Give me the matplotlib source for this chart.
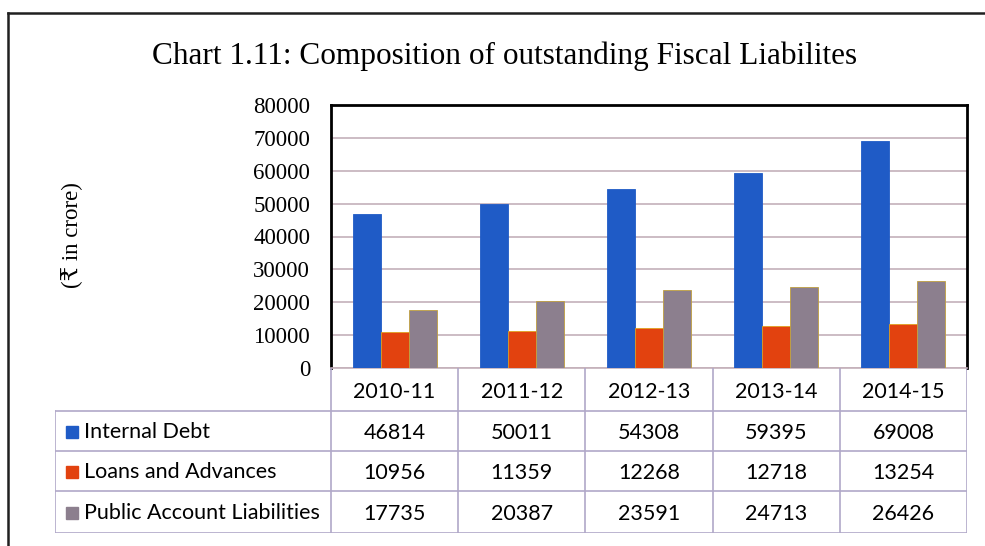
import matplotlib.pyplot as plt
from matplotlib.lines import Line2D

# data
years = ['2010-11', '2011-12', '2012-13', '2013-14', '2014-15']
series_names = ['Internal Debt', 'Loans and Advances', 'Public Account Liabilities']
internal_debt = [46814, 50011, 54308, 59395, 69008]
loans_advances = [10956, 11359, 12268, 12718, 13254]
public_account = [17735, 20387, 23591, 24713, 26426]
y_ticks = [0, 10000, 20000, 30000, 40000, 50000, 60000, 70000, 80000]

series = [internal_debt, loans_advances, public_account]
colors = ['#1F5BC6', '#E2420F', '#8C7F8E']
edges = ['#1F5BC6', '#E0A020', '#C0A040']

W, H = 985, 546
fig = plt.figure(figsize=(W / 100, H / 100), dpi=100)

serif = ['Liberation Serif', 'DejaVu Serif', 'DejaVu Sans']
sans = ['Lato', 'DejaVu Sans']

# pixel layout
ax_l, ax_r, ax_t, ax_b = 331, 967, 105, 368
ax = fig.add_axes([ax_l / W, 1 - ax_b / H, (ax_r - ax_l) / W, (ax_b - ax_t) / H])

n = len(years)
x = list(range(n))
bw = 0.22
for i, (vals, c, e) in enumerate(zip(series, colors, edges)):
    ax.bar([xi + (i - 1) * bw for xi in x], vals, width=bw, color=c,
           edgecolor=e, linewidth=0.6, zorder=3, label=series_names[i])

ax.set_xlim(-0.5, n - 0.5)
ax.set_ylim(0, 80000)
ax.set_yticks(y_ticks)
ax.set_yticklabels([str(v) for v in y_ticks], fontsize=16.5, family=serif)
ax.set_xticks([])
ax.tick_params(axis='y', length=0, pad=15)
ax.grid(axis='y', color='#c4b0ba', linewidth=1.2, zorder=0)
for s in ['top', 'right', 'left']:
    ax.spines[s].set_color('black')
    ax.spines[s].set_linewidth(2)
ax.spines['bottom'].set_color('#c4b0ba')
ax.spines['bottom'].set_linewidth(1.2)

fig.text(505 / W, 1 - 56 / H, 'Chart 1.11: Composition of outstanding Fiscal Liabilites',
         ha='center', va='center', fontsize=22.5, family=serif)
fig.text(72 / W, 1 - 235 / H, '(₹ in crore)', rotation=90, ha='center', va='center',
         fontsize=16.5, family=serif)

# data table under the chart, columns aligned with the bar groups
unit = (ax_r - ax_l) / n
tab_l = 55
tx_left = -0.5 - (ax_l - tab_l) / unit
tab = fig.add_axes([tab_l / W, 1 - 533 / H, (ax_r - tab_l) / W, (533 - ax_b) / H])
tab.set_xlim(tx_left, n - 0.5)
tab.set_ylim(533, ax_b)
tab.axis('off')

row_edges = [ax_b, 411, 451, 491, 533]
grid_c = '#b0a8c8'
for k in range(n + 1):
    tab.plot([k - 0.5, k - 0.5], [ax_b, 533], color=grid_c, lw=1.2)
tab.plot([tx_left, tx_left], [411, 533], color=grid_c, lw=1.2)
for yy in row_edges[1:]:
    tab.plot([tx_left, n - 0.5], [yy, yy], color=grid_c, lw=1.2)

fs = 15.5
for k, yr in enumerate(years):
    tab.text(k, (row_edges[0] + row_edges[1]) / 2 + 3, yr, ha='center', va='center',
             fontsize=fs, family=sans)
for r, (name, vals, c) in enumerate(zip(series_names, series, colors)):
    yc = (row_edges[r + 1] + row_edges[r + 2]) / 2
    tab.text(tx_left + 29 / unit, yc + 1, name, ha='left', va='center', fontsize=fs, family=sans)
    tab.plot([tx_left + 17 / unit], [yc + 1], marker='s', markersize=8, color=c, linestyle='none')
    for k, v in enumerate(vals):
        tab.text(k, yc + 2, str(v), ha='center', va='center', fontsize=fs, family=sans)

# outer frame of the scanned box
fig.add_artist(Line2D([8 / W, 1], [1 - 13 / H, 1 - 13 / H], color='#202020', lw=1.8,
                      transform=fig.transFigure))
fig.add_artist(Line2D([8 / W, 8 / W], [0, 1 - 13 / H], color='#202020', lw=1.8,
                      transform=fig.transFigure))

fig.savefig('out.png', dpi=100)
